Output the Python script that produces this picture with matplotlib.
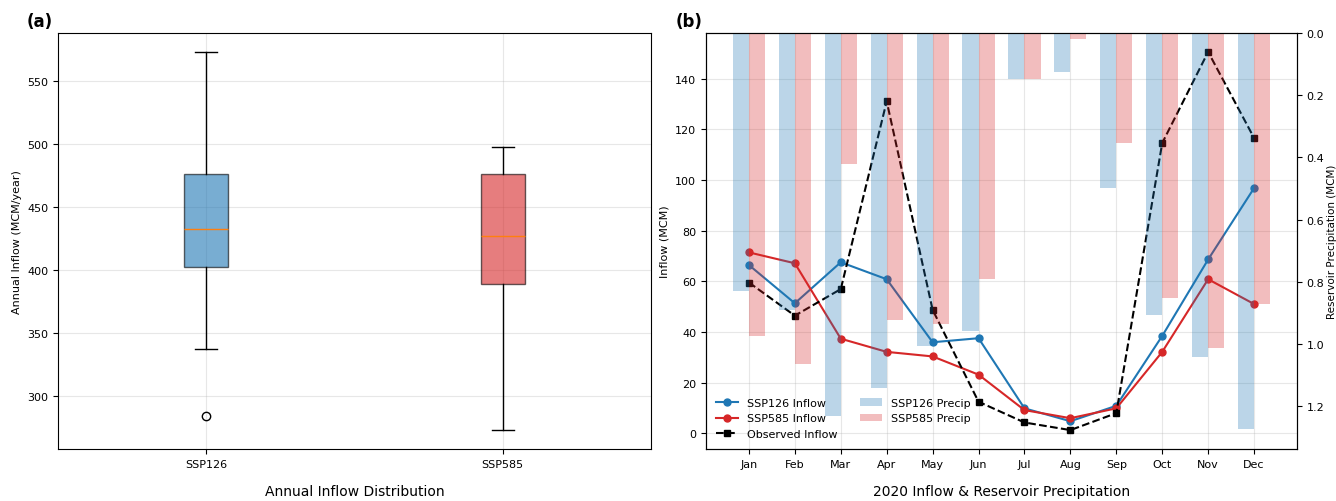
import matplotlib
matplotlib.use("Agg")
import matplotlib.pyplot as plt
import numpy as np

# panel (a): annual inflow box statistics (MCM/year)
scenarios = ["SSP126", "SSP585"]
whislo = [337.5, 273.3]
q1 = [402.5, 389.3]
med = [432.3, 426.8]
q3 = [476.5, 476.5]
whishi = [573.0, 497.4]
fliers = [[284.8], []]
box_colors = ["#1f77b4", "#d62728"]

# panel (b): 2020 monthly values
months = ["Jan", "Feb", "Mar", "Apr", "May", "Jun",
          "Jul", "Aug", "Sep", "Oct", "Nov", "Dec"]
ssp126_inflow = [66.4, 51.3, 67.5, 60.8, 35.9, 37.5, 9.8, 4.7, 10.8, 38.4, 68.6, 96.8]
ssp585_inflow = [71.4, 67.1, 37.3, 32.1, 30.3, 23.1, 9.1, 5.9, 9.8, 32.1, 60.8, 51.0]
obs_inflow = [59.5, 46.4, 56.9, 131.1, 48.7, 12.4, 4.2, 1.2, 7.9, 114.6, 150.6, 116.6]
ssp126_precip = [0.828, 0.889, 1.232, 1.140, 1.005, 0.956, 0.148, 0.124, 0.498, 0.905, 1.040, 1.273]
ssp585_precip = [0.973, 1.065, 0.420, 0.921, 0.934, 0.792, 0.149, 0.020, 0.352, 0.850, 1.013, 0.871]

fig = plt.figure(figsize=(13.36, 5.02), dpi=100)
ax1 = fig.add_axes([58/1336, 52/502, 593/1336, 416/502])
ax2 = fig.add_axes([706/1336, 52/502, 591/1336, 416/502])

# ---- (a) boxplot
stats = []
for i in range(len(scenarios)):
    stats.append(dict(label=scenarios[i], whislo=whislo[i], q1=q1[i], med=med[i],
                      q3=q3[i], whishi=whishi[i], fliers=fliers[i]))
bp = ax1.bxp(stats, patch_artist=True)
for patch, c in zip(bp["boxes"], box_colors):
    patch.set_facecolor(c)
    patch.set_alpha(0.6)
ax1.set_ylabel("Annual Inflow (MCM/year)", fontsize=8)
ax1.set_xlabel("Annual Inflow Distribution", fontsize=10, labelpad=11)
ax1.tick_params(labelsize=8)
ax1.grid(True, alpha=0.3)
fig.text(27/1336, 1 - 22/502, "(a)", fontsize=12, fontweight="bold", va="center")

# ---- (b) inflow lines + precipitation bars
x = np.arange(len(months))
l1, = ax2.plot(x, ssp126_inflow, "-o", color="#1f77b4", markersize=5, linewidth=1.5, label="SSP126 Inflow")
l2, = ax2.plot(x, ssp585_inflow, "-o", color="#d62728", markersize=5, linewidth=1.5, label="SSP585 Inflow")
l3, = ax2.plot(x, obs_inflow, "--s", color="black", markersize=5, linewidth=1.5, label="Observed Inflow")
ax2.set_ylabel("Inflow (MCM)", fontsize=8)
ax2.set_xticks(x)
ax2.set_xticklabels(months)
ax2.tick_params(labelsize=8)
ax2.grid(True, alpha=0.3)
ax2.set_xlabel("2020 Inflow & Reservoir Precipitation", fontsize=10, labelpad=11)

ax3 = ax2.twinx()
w = 0.35
b1 = ax3.bar(x - w/2, ssp126_precip, w, color="#1f77b4", alpha=0.3, label="SSP126 Precip")
b2 = ax3.bar(x + w/2, ssp585_precip, w, color="#d62728", alpha=0.3, label="SSP585 Precip")
ax3.invert_yaxis()
ax3.set_ylabel("Reservoir Precipitation (MCM)", fontsize=7.5, labelpad=2)
ax3.tick_params(labelsize=8)

ax3.legend([l1, l2, l3, b1, b2],
           [h.get_label() for h in [l1, l2, l3, b1, b2]],
           loc="lower left", ncol=2, fontsize=8, frameon=False)
fig.text(676/1336, 1 - 22/502, "(b)", fontsize=12, fontweight="bold", va="center")

fig.savefig("out.png", dpi=100)
